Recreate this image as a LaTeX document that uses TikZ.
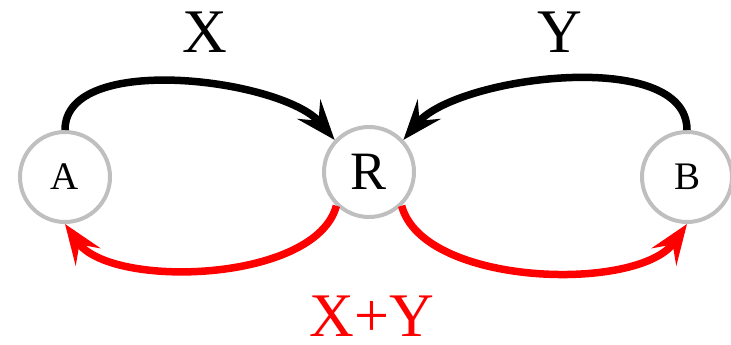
\documentclass[tikz,border=0pt]{standalone}
\usepackage{fontspec}
\setmainfont{Liberation Serif}
\usetikzlibrary{arrows.meta, positioning}

\begin{document}
\begin{tikzpicture}[x=1pt, y=1pt,
  party/.style={circle, draw=gray!50, line width=4pt, minimum size=90pt,
                inner sep=0pt, font=\fontsize{39}{39}\selectfont},
  flow/.style={line width=7.5pt, -{Stealth[length=40pt, width=30pt, inset=15pt]}},
  tag/.style={inner sep=0pt, anchor=base, font=\fontsize{62}{62}\selectfont}
]
\useasboundingbox (0,0) rectangle (731,345);

\node[party] (a) at (65,168) {A};
\node[party, font=\fontsize{54}{54}\selectfont] (r) at (369,173) {R};
\node[party] (b) at (687,168) {B};

\node[tag] (x) at (205,292) {X};
\node[tag] (y) at (560,292) {Y};
\node[tag, text=red] (xy) at (372,8) {X+Y};

\draw[flow] (a.north) to[out=90, in=130, looseness=0.75] (r.137);
\draw[flow] (b.north) to[out=90, in=50, looseness=0.75] (r.43);
\draw[flow, red] (r.-134) to[out=-105, in=-55, looseness=0.75] (a.south);
\draw[flow, red] (r.-46) to[out=-75, in=-125, looseness=0.75] (b.south);
\end{tikzpicture}
\end{document}
